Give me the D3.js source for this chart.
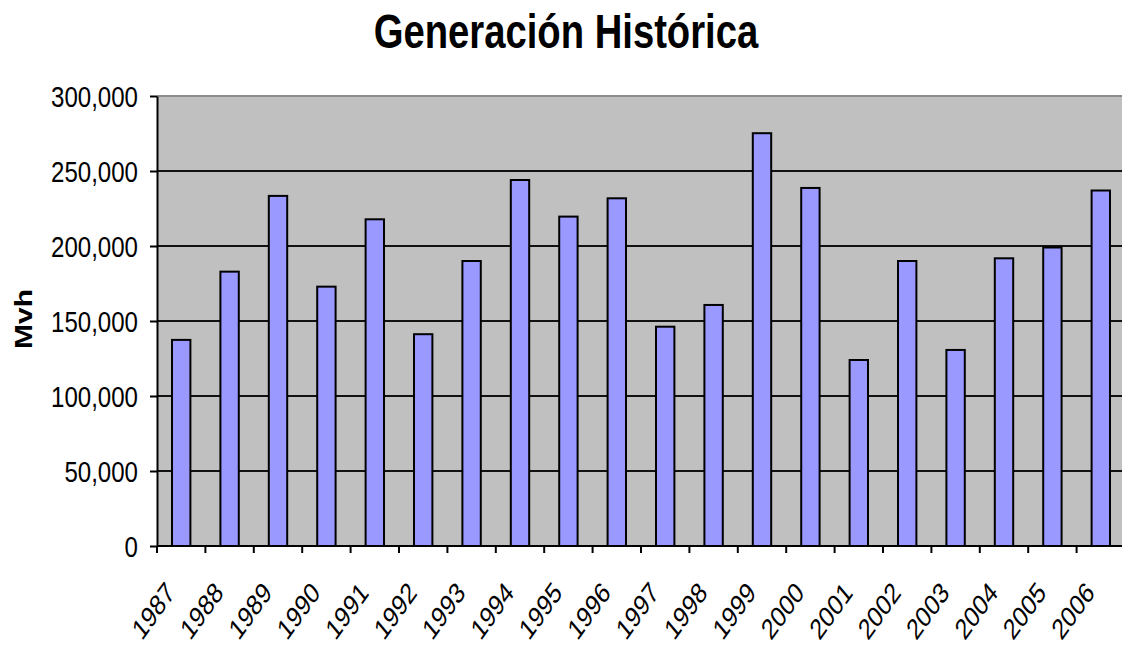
<!DOCTYPE html>
<html lang="es">
<head>
  <meta charset="UTF-8">
  <title>Generación Histórica</title>
  <script src="https://d3js.org/d3.v7.min.js"></script>
  <style>
    body {
      margin: 0;
      padding: 0;
      background: #ffffff;
    }
    svg text {
      font-family: "Liberation Sans", Arial, sans-serif;
      fill: #000;
    }
  </style>
</head>
<body>
  <svg id="chart"></svg>

  <script>
    // Data
    const years = ["1987", "1988", "1989", "1990", "1991", "1992", "1993", "1994", "1995", "1996",
                   "1997", "1998", "1999", "2000", "2001", "2002", "2003", "2004", "2005", "2006"];
    const generation = [137400, 182900, 233400, 172900, 217800, 141200, 190000, 244000, 219600, 231800,
                        146200, 160700, 275200, 238700, 124000, 190000, 130700, 191800, 199000, 237000];
    const yTicks = [0, 50000, 100000, 150000, 200000, 250000, 300000];

    const width = 1122;
    const height = 647;
    const plotLeft = 157, plotRight = 1125, plotTop = 96, plotBottom = 546;
    const squeeze = "scale(0.78,1)"; // the reference text is narrow

    const svg = d3.select("#chart")
      .attr("width", width)
      .attr("height", height);

    const x = d3.scaleBand()
      .domain(years)
      .range([plotLeft, plotRight])
      .paddingInner(0.62)
      .paddingOuter(0.31);

    const y = d3.scaleLinear()
      .domain([0, 300000])
      .range([plotBottom, plotTop]);

    // plot background
    svg.append("rect")
      .attr("x", plotLeft)
      .attr("y", plotTop)
      .attr("width", plotRight - plotLeft)
      .attr("height", plotBottom - plotTop)
      .attr("fill", "#c0c0c0");

    // top border
    svg.append("line")
      .attr("x1", plotLeft).attr("x2", plotRight)
      .attr("y1", plotTop).attr("y2", plotTop)
      .attr("stroke", "#8c8c8c")
      .attr("stroke-width", 2);

    // gridlines
    svg.append("g")
      .selectAll("line")
      .data(yTicks.filter(d => d > 0 && d < 300000))
      .enter()
      .append("line")
      .attr("x1", plotLeft).attr("x2", plotRight)
      .attr("y1", d => y(d)).attr("y2", d => y(d))
      .attr("stroke", "#111")
      .attr("stroke-width", 2);

    // bars
    svg.append("g")
      .selectAll("rect")
      .data(generation)
      .enter()
      .append("rect")
      .attr("x", (d, i) => x(years[i]))
      .attr("y", d => y(d))
      .attr("width", x.bandwidth())
      .attr("height", d => plotBottom - y(d))
      .attr("fill", "#9999ff")
      .attr("stroke", "#000")
      .attr("stroke-width", 2);

    // y axis
    const yAxis = svg.append("g")
      .attr("transform", `translate(${plotLeft},0)`)
      .call(d3.axisLeft(y).tickValues(yTicks).tickSize(7).tickSizeOuter(0).tickFormat(d3.format(",")));

    yAxis.select(".domain").attr("stroke", "#000").attr("stroke-width", 2);
    yAxis.selectAll(".tick line").attr("stroke", "#000").attr("stroke-width", 2);
    yAxis.selectAll(".tick text")
      .attr("x", null)
      .attr("dy", "0.36em")
      .attr("transform", "translate(-19,0) scale(0.83,1)")
      .attr("font-size", 29)
      .attr("font-family", null);

    // x axis: ticks sit between the categories
    const step = x.step();
    const boundaries = years.map(d => x(d) + x.bandwidth() / 2 - step / 2);

    svg.append("line")
      .attr("x1", plotLeft).attr("x2", plotRight)
      .attr("y1", plotBottom).attr("y2", plotBottom)
      .attr("stroke", "#000")
      .attr("stroke-width", 2);

    svg.append("g")
      .selectAll("line")
      .data(boundaries)
      .enter()
      .append("line")
      .attr("x1", d => d).attr("x2", d => d)
      .attr("y1", plotBottom).attr("y2", plotBottom + 7)
      .attr("stroke", "#000")
      .attr("stroke-width", 2);

    svg.append("g")
      .selectAll("text")
      .data(years)
      .enter()
      .append("text")
      .attr("transform", d => `translate(${x(d) + x.bandwidth() / 2 - 5},${plotBottom + 48}) ${squeeze} rotate(-47)`)
      .attr("text-anchor", "end")
      .attr("font-size", 29)
      .text(d => d);

    // axis title
    svg.append("text")
      .attr("transform", `translate(32,319) ${squeeze} rotate(-90)`)
      .attr("text-anchor", "middle")
      .attr("font-size", 30)
      .attr("font-weight", "bold")
      .text("Mvh");

    // chart title
    svg.append("text")
      .attr("transform", `translate(566,48) ${squeeze}`)
      .attr("text-anchor", "middle")
      .attr("font-size", 49)
      .attr("font-weight", "bold")
      .text("Generación Histórica");
  </script>
</body>
</html>
